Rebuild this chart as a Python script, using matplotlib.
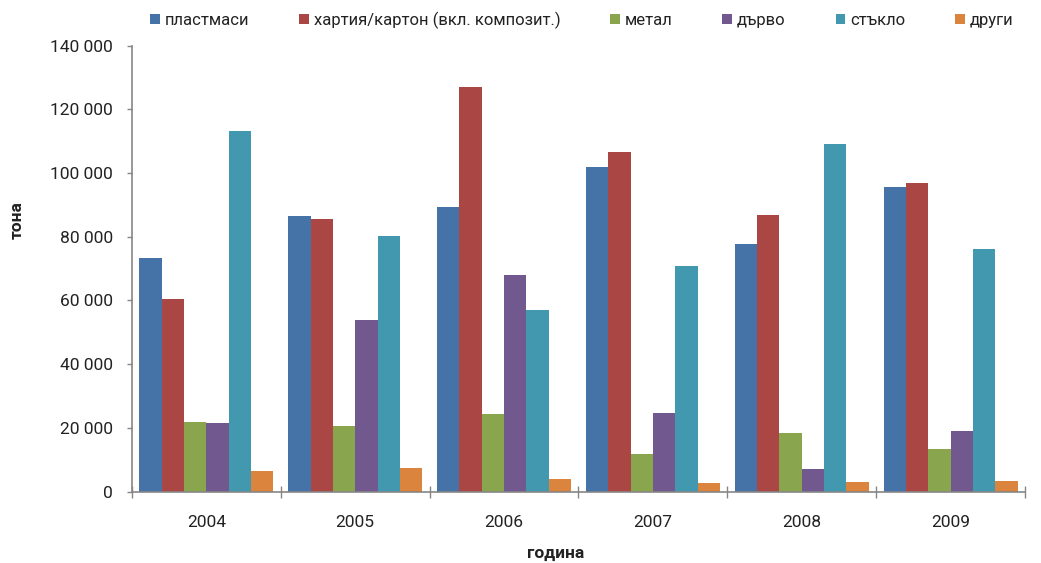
import numpy as np
import matplotlib.pyplot as plt
from matplotlib.ticker import FuncFormatter

plt.rcParams['font.family'] = ['Roboto', 'DejaVu Sans']

years = ['2004', '2005', '2006', '2007', '2008', '2009']
series_names = ['пластмаси', 'хартия/картон (вкл. композит.)', 'метал',
                'дърво', 'стъкло', 'други']
plastics = [73200, 86500, 89300, 102000, 77700, 95500]
paper = [60600, 85500, 127000, 106500, 86800, 96900]
metal = [21800, 20700, 24300, 11800, 18300, 13200]
wood = [21400, 54000, 68000, 24600, 7100, 19100]
glass = [113200, 80200, 57000, 70900, 109100, 76100]
other = [6500, 7300, 3900, 2800, 3100, 3400]
colors = ['#4572A7', '#AA4643', '#89A54E', '#71588F', '#4198AF', '#DB843D']

values = [plastics, paper, metal, wood, glass, other]
txt = '#222222'

fig = plt.figure(figsize=(10.41, 5.63), dpi=100)
ax = fig.add_axes([132 / 1041, 71.5 / 563, (1025 - 132) / 1041, (491.5 - 45.7) / 563])

x = np.arange(len(years))
w = 0.15
for i, (vals, name, c) in enumerate(zip(values, series_names, colors)):
    ax.bar(x + (i - 2.5) * w, vals, width=w, color=c, label=name, linewidth=0)

ax.set_xlim(-0.5, len(years) - 0.5)
ax.set_ylim(0, 140000)
ax.set_yticks(np.arange(0, 140001, 20000))
ax.yaxis.set_major_formatter(FuncFormatter(lambda v, p: f'{int(v):,}'.replace(',', ' ')))

# category separators as major ticks, year labels on minor ticks
ax.set_xticks(np.arange(-0.5, len(years)), labels=[])
ax.set_xticks(x, labels=years, minor=True)
ax.tick_params(axis='x', which='major', direction='inout', length=8.6, color='#868686', width=1)
ax.tick_params(axis='x', which='minor', length=0, pad=17, labelsize=12.5, labelcolor=txt)
ax.tick_params(axis='y', direction='out', length=3.6, color='#868686', width=1, labelsize=12.5,
               labelcolor=txt, pad=10)

for s in ['top', 'right']:
    ax.spines[s].set_visible(False)
for s in ['left', 'bottom']:
    ax.spines[s].set_color('#868686')
    ax.spines[s].set_linewidth(1.2)

ax.set_ylabel('тона', fontweight='bold', fontsize=12.5, color=txt)
ax.yaxis.set_label_coords(-0.128, 0.609)
ax.yaxis.label.set_va('center')
ax.set_xlabel('година', fontweight='bold', fontsize=12.5, color=txt)
ax.xaxis.set_label_coords(0.474, -0.138)
ax.xaxis.label.set_va('center')

fig.legend(loc='center left', bbox_to_anchor=(150 / 1041, 1 - 20 / 563), ncol=6,
           frameon=False, fontsize=12, handlelength=0.57, handleheight=0.57,
           handletextpad=0.3, columnspacing=3.0, borderaxespad=0, borderpad=0,
           labelcolor=txt)

fig.savefig('out.png', dpi=100)
